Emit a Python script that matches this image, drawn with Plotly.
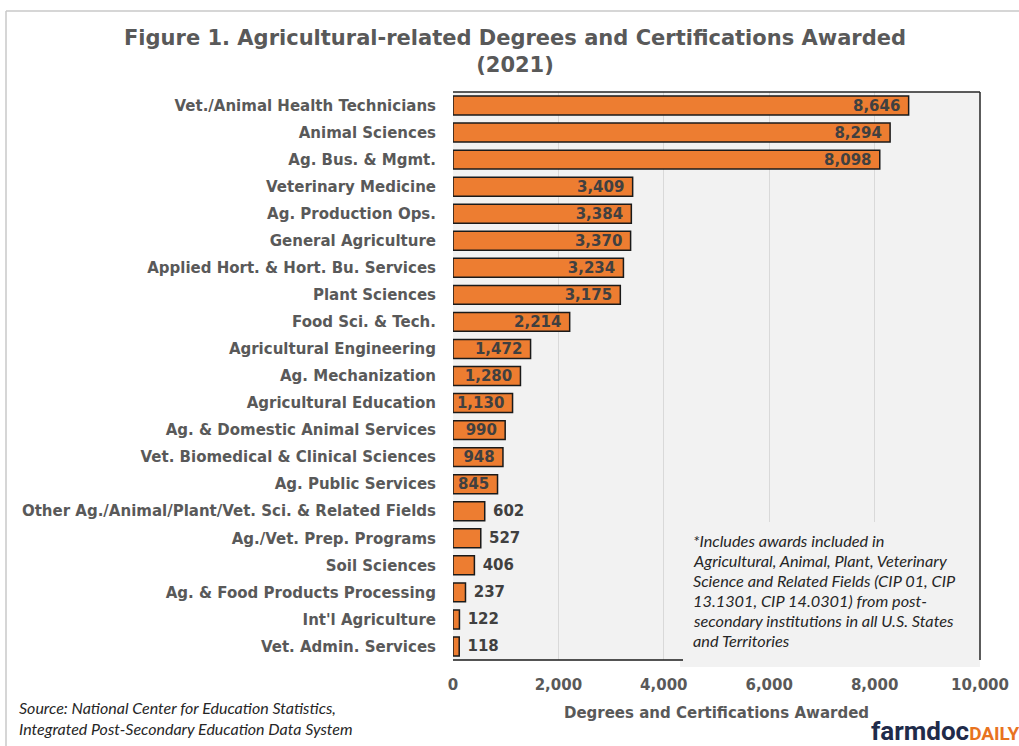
import plotly.graph_objects as go

categories = [
    "Vet./Animal Health Technicians", "Animal Sciences", "Ag. Bus. & Mgmt.",
    "Veterinary Medicine", "Ag. Production Ops.", "General Agriculture",
    "Applied Hort. & Hort. Bu. Services", "Plant Sciences", "Food Sci. & Tech.",
    "Agricultural Engineering", "Ag. Mechanization", "Agricultural Education",
    "Ag. & Domestic Animal Services", "Vet. Biomedical & Clinical Sciences",
    "Ag. Public Services", "Other Ag./Animal/Plant/Vet. Sci. & Related Fields",
    "Ag./Vet. Prep. Programs", "Soil Sciences", "Ag. & Food Products Processing",
    "Int'l Agriculture", "Vet. Admin. Services",
]
values = [8646, 8294, 8098, 3409, 3384, 3370, 3234, 3175, 2214, 1472, 1280,
          1130, 990, 948, 845, 602, 527, 406, 237, 122, 118]
x_ticks = [0, 2000, 4000, 6000, 8000, 10000]

W, H = 1019, 746
L, R, T, B = 453, 980, 92, 660

def px(x):
    return (x - L) / (R - L)

def py(y):
    return (B - y) / (B - T)

SANS = "'DejaVu Sans', sans-serif"
NB = "\u00a0"
label_pos = ["inside" if v >= 800 else "outside" for v in values]
label_tpl = [("%{x:,}" + NB) if p == "inside" else (NB + "%{x:,}") for p in label_pos]

fig = go.Figure(go.Bar(
    x=values, y=categories, orientation="h",
    marker=dict(color="#ED7D31", line=dict(color="#1a1a1a", width=1.5)),
    texttemplate=label_tpl, textposition=label_pos, insidetextanchor="end",
    textfont=dict(family=SANS, size=15, color="#404040", weight="bold"),
    cliponaxis=False, hoverinfo="skip",
))

GRAY = "#595959"
fig.update_layout(
    width=W, height=H,
    margin=dict(l=L, r=W - R, t=T, b=H - B, autoexpand=False),
    paper_bgcolor="white", plot_bgcolor="#F2F2F2",
    bargap=0.3, showlegend=False,
    uniformtext=dict(minsize=15, mode="show"),
    title=dict(
        text="Figure 1. Agricultural-related Degrees and Certifications Awarded<br>(2021)",
        x=515 / W, xanchor="center", y=1 - 45 / H, yanchor="top",
        font=dict(family=SANS, size=21, color=GRAY, weight="bold"),
    ),
    xaxis=dict(
        range=[0, 10000], tickvals=x_ticks, tickformat=",",
        showgrid=True, gridcolor="#D9D9D9", gridwidth=1, zeroline=False,
        showline=False, ticks="", ticklabelstandoff=14,
        tickfont=dict(family=SANS, size=15, color=GRAY, weight="bold"),
        title=dict(text="Degrees and Certifications Awarded", standoff=14,
                   font=dict(family=SANS, size=15, color=GRAY, weight="bold")),
    ),
    yaxis=dict(
        categoryorder="array", categoryarray=categories,
        range=[len(categories) - 0.5, -0.5], showgrid=False, showline=False,
        ticks="", ticklabelstandoff=16,
        tickfont=dict(family=SANS, size=15, color=GRAY, weight="bold"),
    ),
)

shapes = [
    dict(type="rect", xref="paper", yref="paper", x0=px(680), x1=px(980),
         y0=py(667), y1=py(522), fillcolor="#F2F2F2", line=dict(width=0), layer="above"),
    dict(type="line", xref="paper", yref="paper", x0=px(453), x1=px(980),
         y0=py(92), y1=py(92), line=dict(color="#262626", width=1.5), layer="above"),
    dict(type="line", xref="paper", yref="paper", x0=px(980), x1=px(980),
         y0=py(92), y1=py(660), line=dict(color="#262626", width=1.5), layer="above"),
    dict(type="line", xref="paper", yref="paper", x0=px(453), x1=px(683),
         y0=py(660), y1=py(660), line=dict(color="#1a1a1a", width=1.5), layer="above"),
    dict(type="line", xref="paper", yref="paper", x0=px(6), x1=px(1030),
         y0=py(11), y1=py(11), line=dict(color="#C8C8C8", width=1.5), layer="above"),
    dict(type="line", xref="paper", yref="paper", x0=px(6), x1=px(6),
         y0=py(11), y1=py(760), line=dict(color="#C8C8C8", width=1.5), layer="above"),
]
fig.update_layout(shapes=shapes)

ITAL = "Lato, 'Open Sans', sans-serif"
note_lines = [
    "*Includes awards included in",
    "Agricultural, Animal, Plant, Veterinary",
    "Science and Related Fields (CIP 01, CIP",
    "13.1301, CIP 14.0301) from post-",
    "secondary institutions in all U.S. States",
    "and Territories",
]
annotations = []
for i, line in enumerate(note_lines):
    annotations.append(dict(
        text=line, xref="paper", yref="paper", x=px(691), y=py(540 + 20 * i),
        xanchor="left", yanchor="middle", showarrow=False,
        font=dict(family=ITAL, size=16.3, color="#262626", style="italic"),
    ))
source_lines = [
    "Source: National Center for Education Statistics,",
    "Integrated Post-Secondary Education Data System",
]
for i, line in enumerate(source_lines):
    annotations.append(dict(
        text=line, xref="paper", yref="paper", x=px(17), y=py(708 + 20 * i),
        xanchor="left", yanchor="middle", showarrow=False,
        font=dict(family=ITAL, size=16, color="#262626", style="italic"),
    ))
annotations.append(dict(
    text="<b><span style='color:#1F2B4A;font-size:26px'>farmdoc</span>"
         "<span style='color:#E8731F;font-size:19px'>DAILY</span></b>",
    xref="paper", yref="paper", x=px(1021), y=py(748),
    xanchor="right", yanchor="bottom", showarrow=False,
    font=dict(family="Roboto", size=26),
))
fig.update_layout(annotations=annotations)

fig.write_html("out.html")
